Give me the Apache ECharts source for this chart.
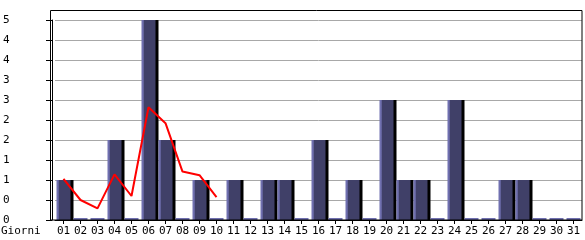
<!DOCTYPE html>
<html><head><meta charset="utf-8">
<script src="https://cdn.jsdelivr.net/npm/echarts@6/dist/echarts.min.js"></script>
<style>html,body{margin:0;padding:0;background:#fff}#c{width:585px;height:240px}</style>
</head><body><div id="c"></div>
<script>
var days = ['01','02','03','04','05','06','07','08','09','10','11','12','13','14','15','16','17','18','19','20','21','22','23','24','25','26','27','28','29','30','31'];
var counts = [1,0,0,2,0,5,2,0,1,0,1,0,1,1,0,2,0,1,0,3,1,1,0,3,0,0,1,1,0,0,0];
var trend = [1.03,0.5,0.29,1.14,0.6,2.82,2.42,1.21,1.12,0.57];
var xName = 'Giorni';

var dark = '#404068', light = '#7070b0';
var barData = counts.map(function(v){
  if (v === 0) return {value: v, itemStyle: {color: light, shadowColor: 'rgba(0,0,0,0)'}};
  return v;
});
var font = 'DejaVu Sans Mono';
var chart = echarts.init(document.getElementById('c'), null, {renderer: 'canvas'});
chart.setOption({
  animation: false,
  backgroundColor: '#fff',
  grid: {left: 54, right: 3, top: 20, bottom: 20, show: false},
  xAxis: {
    type: 'category', data: days,
    axisLine: {show: true, lineStyle: {color: '#000', width: 1}},
    axisTick: {show: true, alignWithLabel: true, length: 4, lineStyle: {color: '#000'}},
    axisLabel: {color: '#000', fontFamily: font, fontSize: 11, margin: 6, interval: 0},
    splitLine: {show: false}
  },
  yAxis: {
    type: 'value', min: 0, max: 5, interval: 0.5, offset: 3,
    axisLine: {show: true, lineStyle: {color: '#000', width: 1}},
    axisTick: {show: true, length: 6, lineStyle: {color: '#000'}},
    axisLabel: {color: '#000', fontFamily: font, fontSize: 11, align: 'left', margin: 49,
      formatter: function(v){ return String(Math.floor(v)); }},
    splitLine: {show: true, lineStyle: {color: '#a8a8a8', width: 1}}
  },
  graphic: [
    {type: 'rect', shape: {x: 50.5, y: 10.5, width: 531.5, height: 209.5}, style: {fill: null, stroke: '#000', lineWidth: 1}, z: 100, silent: true},
    {type: 'text', left: 1, top: 226, style: {text: xName, font: '11px "DejaVu Sans Mono"', fill: '#000'}}
  ],
  series: [
    {type: 'bar', data: barData, barWidth: 14, barMinHeight: 2,
      itemStyle: {
        color: new echarts.graphic.LinearGradient(0, 0, 1, 0, [
          {offset: 0, color: light}, {offset: 0.14, color: light},
          {offset: 0.15, color: dark}, {offset: 1, color: dark}]),
        shadowColor: '#000', shadowOffsetX: 3, shadowOffsetY: 0, shadowBlur: 0
      }},
    {type: 'line', data: trend, symbol: 'none', lineStyle: {color: '#ff0000', width: 2}, z: 5}
  ]
});
</script></body></html>
